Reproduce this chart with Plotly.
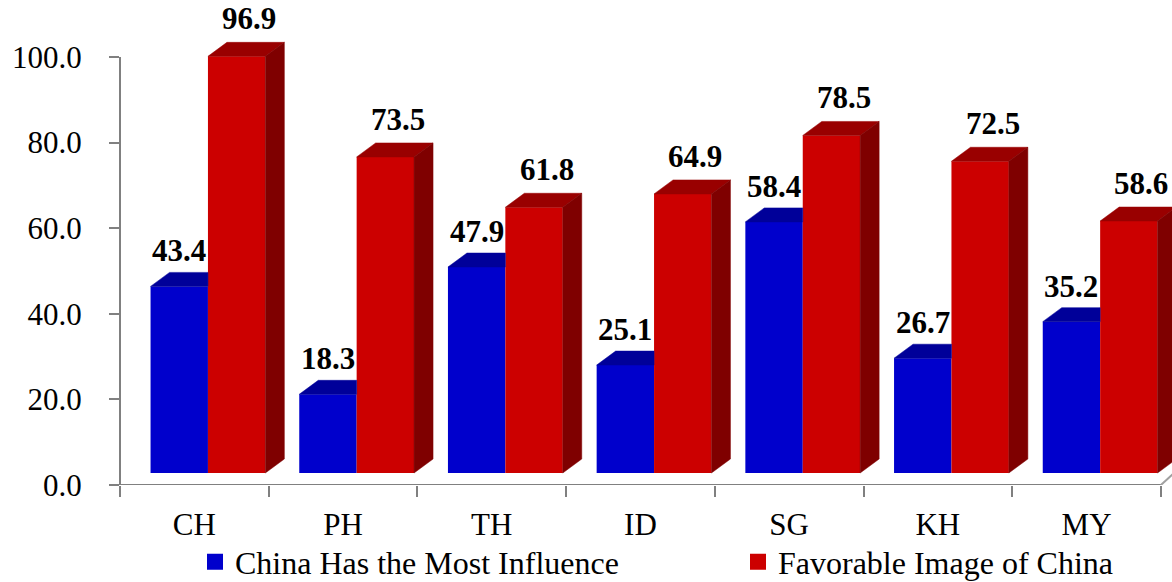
import plotly.graph_objects as go

# ---- data -------------------------------------------------------------
categories = ["CH", "PH", "TH", "ID", "SG", "KH", "MY"]
influence = [43.4, 18.3, 47.9, 25.1, 58.4, 26.7, 35.2]
favorable = [96.9, 73.5, 61.8, 64.9, 78.5, 72.5, 58.6]
y_ticks = [0, 20, 40, 60, 80, 100]
series_names = ["China Has the Most Influence", "Favorable Image of China"]

# ---- colours ----------------------------------------------------------
BLUE_FRONT, BLUE_TOP = "#0000CC", "#000099"
RED_FRONT, RED_TOP, RED_SIDE = "#CC0000", "#990000", "#7F0000"
AXIS_GREY = "#808080"
FONT = "Liberation Serif, Times New Roman, serif"

# ---- page geometry (pixels) ------------------------------------------
W, H = 1172, 582
M_L, M_R, M_T, M_B = 120, 0, 10, 97
plot_w = W - M_L - M_R
plot_h = H - M_T - M_B
cat_px = 148.7          # width of one category slot
unit_px_axis = 4.28     # pixels per value unit on the value axis
unit_px_bar = 4.30      # pixels per value unit on the bar fronts
floor_lift = 12         # bar fronts start this far above the axis line
wall_lift = 35          # back wall gridlines sit this far above the ticks
group_shift = 13.6      # bar groups sit right of the category centre
depth_dx, depth_dy = 19, 14   # oblique depth of each bar

x_range = [-0.5, -0.5 + plot_w / cat_px]
x2_range = [x_range[0] - group_shift / cat_px, x_range[1] - group_shift / cat_px]
y_range = [0, plot_h / unit_px_axis]
y2_range = [-floor_lift / unit_px_bar, (plot_h - floor_lift) / unit_px_bar]
y3_range = [-wall_lift / unit_px_axis, (plot_h - wall_lift) / unit_px_axis]

bargap = 0.228
bar_w = (1 - bargap) / 2
dx = depth_dx / cat_px
dy = depth_dy / unit_px_bar
idx = list(range(len(categories)))

fig = go.Figure()

# category axis carrier
fig.add_trace(go.Scatter(x=categories, y=[None] * len(categories), mode="markers",
                         showlegend=False, hoverinfo="skip"))

# front faces of the bars
fig.add_trace(go.Bar(x=idx, y=influence, xaxis="x2", yaxis="y2", name=series_names[0],
                     marker=dict(color=BLUE_FRONT, line=dict(width=0)), showlegend=False))
fig.add_trace(go.Bar(x=idx, y=favorable, xaxis="x2", yaxis="y2", name=series_names[1],
                     marker=dict(color=RED_FRONT, line=dict(width=0)), showlegend=False))


def faces(values, left_of, kind):
    xs, ys = [], []
    for i, v in zip(idx, values):
        x0 = i - bar_w if left_of else i
        x1 = x0 + bar_w
        if kind == "top_clipped":
            pts = [(x0, v), (x0 + dx, v + dy), (x1, v + dy), (x1, v)]
        elif kind == "top":
            pts = [(x0, v), (x0 + dx, v + dy), (x1 + dx, v + dy), (x1, v)]
        else:  # side
            pts = [(x1, 0), (x1, v), (x1 + dx, v + dy), (x1 + dx, dy)]
        pts.append(pts[0])
        xs += [p[0] for p in pts] + [None]
        ys += [p[1] for p in pts] + [None]
    return xs, ys


for vals, left, kind, col in [
    (influence, True, "top_clipped", BLUE_TOP),
    (favorable, False, "top", RED_TOP),
    (favorable, False, "side", RED_SIDE),
]:
    fx, fy = faces(vals, left, kind)
    fig.add_trace(go.Scatter(x=fx, y=fy, xaxis="x2", yaxis="y2", mode="lines",
                             fill="toself", fillcolor=col, line=dict(color=col, width=0.5),
                             showlegend=False, hoverinfo="skip", cliponaxis=False))

# legend entries
fig.add_trace(go.Scatter(x=[None], y=[None], mode="markers", name=series_names[0],
                         marker=dict(symbol="square", size=16, color=BLUE_FRONT),
                         legend="legend"))
fig.add_trace(go.Scatter(x=[None], y=[None], mode="markers", name=series_names[1],
                         marker=dict(symbol="square", size=16, color=RED_FRONT),
                         legend="legend2"))

# value labels
label_font = dict(family=FONT, size=31, color="black")
annotations = []
for i, v in zip(idx, influence):
    annotations.append(dict(x=i - bar_w / 2, y=v + dy, xref="x2", yref="y2",
                            text=f"<b>{v:.1f}</b>", showarrow=False, yanchor="bottom",
                            yshift=2, font=label_font))
for i, v in zip(idx, favorable):
    annotations.append(dict(x=i + bar_w / 2 + dx / 2, y=v + dy, xref="x2", yref="y2",
                            text=f"<b>{v:.1f}</b>", showarrow=False, yanchor="bottom",
                            xshift=3, yshift=4, font=label_font))

# axis lines, with the floor edge turning back at the right end
x_end = len(categories) * cat_px / plot_w
shapes = [
    dict(type="line", xref="paper", yref="y", x0=0, x1=0, y0=0, y1=y_ticks[-1],
         line=dict(color=AXIS_GREY, width=2)),
    dict(type="line", xref="paper", yref="y", x0=0, x1=x_end,
         y0=0, y1=0, line=dict(color=AXIS_GREY, width=2)),
    dict(type="line", xref="paper", yref="y", x0=x_end, x1=x_end + 12 / plot_w,
         y0=0, y1=11 / unit_px_axis, line=dict(color="#A0A0A0", width=2)),
]

tick_font = dict(family=FONT, size=31, color="black")
leg_y = (M_T + plot_h - 562) / plot_h
fig.update_layout(
    width=W, height=H,
    margin=dict(l=M_L, r=M_R, t=M_T, b=M_B, autoexpand=False),
    paper_bgcolor="white", plot_bgcolor="white",
    barmode="group", bargap=bargap, bargroupgap=0,
    font=dict(family=FONT, size=30, color="black"),
    xaxis=dict(type="category", categoryorder="array", categoryarray=categories,
               range=x_range, tickson="boundaries", ticks="outside", ticklen=11,
               tickwidth=2, tickcolor=AXIS_GREY, showline=False, showgrid=False,
               zeroline=False, tickfont=tick_font, ticklabelstandoff=18,
               automargin=False),
    xaxis2=dict(overlaying="x", range=x2_range, visible=False),
    yaxis=dict(range=y_range, tickvals=y_ticks, ticktext=[f"{v:.1f}" for v in y_ticks],
               ticks="outside", ticklen=10, tickwidth=2, tickcolor=AXIS_GREY,
               showline=False, showgrid=False, zeroline=False,
               tickfont=tick_font, ticklabelstandoff=21, automargin=False),
    yaxis2=dict(overlaying="y", range=y2_range, visible=False),
    yaxis3=dict(overlaying="y", range=y3_range, tickvals=y_ticks, showticklabels=False,
                ticks="", showgrid=True, gridcolor="#EFEFEF", gridwidth=1,
                showline=False, zeroline=False),
    legend=dict(orientation="h", x=(195 - M_L) / plot_w, y=leg_y, xanchor="left",
                yanchor="middle", font=dict(family=FONT, size=32, color="black"),
                bgcolor="rgba(0,0,0,0)"),
    legend2=dict(orientation="h", x=(738 - M_L) / plot_w, y=leg_y, xanchor="left",
                 yanchor="middle", font=dict(family=FONT, size=32, color="black"),
                 bgcolor="rgba(0,0,0,0)"),
    annotations=annotations,
    shapes=shapes,
    showlegend=True,
)

fig.write_html("out.html")
